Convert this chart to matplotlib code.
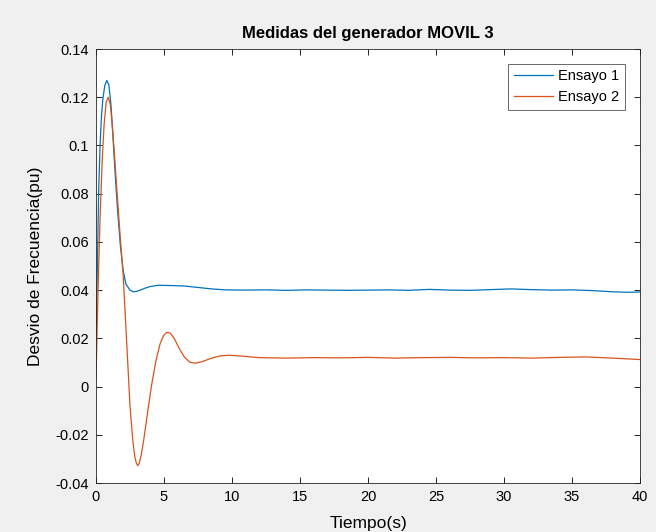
import numpy as np
import matplotlib
matplotlib.use("Agg")
from matplotlib import pyplot as plt
from matplotlib.ticker import FuncFormatter

# valores (tiempo en s, desvio en pu)
t1 = [0, 0.1, 0.2, 0.3, 0.4, 0.5, 0.65, 0.8, 0.95, 1.1, 1.2, 1.4, 1.6, 1.8, 2.0, 2.2,
      2.5, 2.75, 3.0, 3.3, 3.6, 4.0, 4.6, 5.5, 6.5, 7.5, 8.5, 9.5, 11, 12.5, 14, 15.5,
      17, 18.5, 20, 21.5, 23, 24.5, 26, 27.5, 29, 30.5, 32, 33.5, 35, 36.5, 38, 39, 40]
ensayo1 = [0.018, 0.05, 0.082, 0.100, 0.112, 0.119, 0.125, 0.127, 0.125, 0.117, 0.108,
           0.089, 0.072, 0.058, 0.048, 0.0425, 0.0400, 0.0393, 0.0395, 0.0401, 0.0408,
           0.0415, 0.042, 0.0419, 0.0417, 0.0411, 0.0405, 0.0401, 0.0400, 0.0401,
           0.0399, 0.0401, 0.0400, 0.0399, 0.0400, 0.0401, 0.0399, 0.0403, 0.0400,
           0.0399, 0.0402, 0.0405, 0.0402, 0.0400, 0.0401, 0.0398, 0.0393, 0.0391,
           0.0392]

t2 = [0, 0.15, 0.3, 0.45, 0.6, 0.75, 0.9, 1.05, 1.2, 1.35, 1.5, 1.76, 2.0, 2.25, 2.5,
      2.7, 2.85, 2.97, 3.07, 3.18, 3.32, 3.5, 3.8, 4.1, 4.4, 4.7, 4.95, 5.2, 5.45,
      5.75, 6.1, 6.5, 6.9, 7.3, 7.8, 8.4, 9.1, 9.8, 11, 12, 14, 16, 18, 20, 22, 24,
      26, 28, 30, 32, 34, 36, 38, 40]
ensayo2 = [0.003, 0.04, 0.07, 0.093, 0.109, 0.118, 0.120, 0.117, 0.108, 0.097, 0.0844,
           0.0637, 0.046, 0.019, -0.008, -0.022, -0.029, -0.0318, -0.0328, -0.0318,
           -0.0285, -0.0225, -0.0105, 0.0010, 0.0105, 0.0175, 0.0210, 0.0225, 0.0222,
           0.0200, 0.0160, 0.0122, 0.0101, 0.0097, 0.0103, 0.0116, 0.0127, 0.0130,
           0.0125, 0.012, 0.0118, 0.012, 0.0119, 0.0121, 0.0118, 0.012, 0.0121,
           0.0119, 0.012, 0.0118, 0.0121, 0.0123, 0.0118, 0.0112]

plt.rcParams["font.family"] = ["Liberation Sans", "DejaVu Sans"]
plt.rcParams["axes.unicode_minus"] = False

fig = plt.figure(figsize=(6.56, 5.32), dpi=100, facecolor="#f0f0f0")
ax = fig.add_axes([96 / 656, 1 - 483 / 532, 544 / 656, 434 / 532])

ax.plot(t1, ensayo1, color="#0072BD", lw=0.9, label="Ensayo 1")
ax.plot(t2, ensayo2, color="#D95319", lw=0.9, label="Ensayo 2")

ax.set_xlim(0, 40)
ax.set_ylim(-0.04, 0.14)
ax.set_xticks(np.arange(0, 41, 5))
ax.set_yticks(np.arange(-0.04, 0.141, 0.02))
ax.yaxis.set_major_formatter(FuncFormatter(lambda v, p: "%g" % round(v, 2)))
ax.tick_params(direction="in", top=True, right=True, labelsize=10.5, length=4,
               width=0.6, pad=5)
for s in ax.spines.values():
    s.set_linewidth(0.6)
    s.set_color("#262626")

ax.set_title("Medidas del generador MOVIL 3", fontsize=12, fontweight="bold", pad=8)
ax.set_xlabel("Tiempo(s)", fontsize=12.5, labelpad=9)
ax.set_ylabel("Desvio de Frecuencia(pu)", fontsize=12.5, labelpad=9)

leg = ax.legend(loc="upper right", fontsize=10.5, frameon=True, fancybox=False,
                edgecolor="#262626", borderaxespad=1.0, handlelength=2.7,
                borderpad=0.4, labelspacing=0.45, handletextpad=0.35)
leg.get_frame().set_linewidth(0.6)

fig.savefig("out.png", dpi=100, facecolor=fig.get_facecolor())
